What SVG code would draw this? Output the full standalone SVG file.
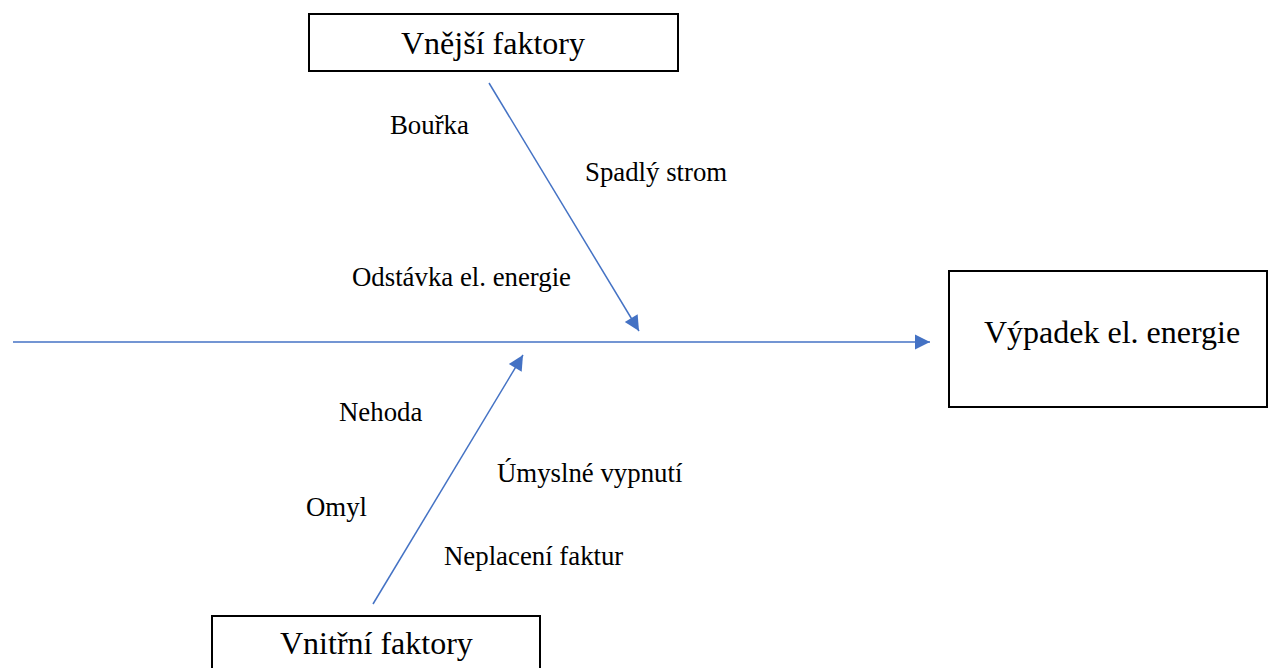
<svg xmlns="http://www.w3.org/2000/svg" width="1270" height="668" viewBox="0 0 1270 668">
  <style>
    .box { fill: #ffffff; stroke: #000000; stroke-width: 2; }
    .title { font-family: "Liberation Serif", "Times New Roman", serif; font-size: 32px; fill: #000000; }
    .label { font-family: "Liberation Serif", "Times New Roman", serif; font-size: 26.8px; fill: #000000; }
    .conn { stroke: #4472C4; stroke-width: 1.5; fill: none; marker-end: url(#arrow); }
  </style>
  <defs>
    <marker id="arrow" viewBox="0 0 10 10" refX="10" refY="5" markerWidth="10" markerHeight="10" markerUnits="userSpaceOnUse" orient="auto" overflow="visible">
      <path d="M0,0 L10,5 L0,10 Z" fill="#4472C4" transform="scale(1.5)" transform-origin="10 5"/>
    </marker>
  </defs>
  <rect width="1270" height="668" fill="#ffffff"/>

  <!-- connectors: spine and the two cause branches -->
  <g id="connectors">
    <line class="conn" x1="13" y1="342" x2="930" y2="342"/>
    <line class="conn" x1="489" y1="83" x2="639" y2="331"/>
    <line class="conn" x1="373" y1="604" x2="523" y2="355"/>
  </g>

  <g id="node-vnejsi">
    <rect class="box" x="309" y="14" width="369" height="57"/>
    <text class="title" x="401" y="54">Vnější faktory</text>
  </g>

  <g id="node-vypadek">
    <rect class="box" x="949" y="271" width="318" height="136"/>
    <text class="title" x="984" y="343" font-size="31.6">Výpadek el. energie</text>
  </g>

  <g id="node-vnitrni">
    <rect class="box" x="212" y="616" width="328" height="70"/>
    <text class="title" x="280" y="654">Vnitřní faktory</text>
  </g>

  <g id="labels-vnejsi">
    <text class="label" x="390" y="134">Bouřka</text>
    <text class="label" x="585" y="181">Spadlý strom</text>
    <text class="label" x="352" y="286">Odstávka el. energie</text>
  </g>

  <g id="labels-vnitrni">
    <text class="label" x="339" y="421">Nehoda</text>
    <text class="label" x="497" y="482">Úmyslné vypnutí</text>
    <text class="label" x="306" y="516">Omyl</text>
    <text class="label" x="444" y="565">Neplacení faktur</text>
  </g>
</svg>
